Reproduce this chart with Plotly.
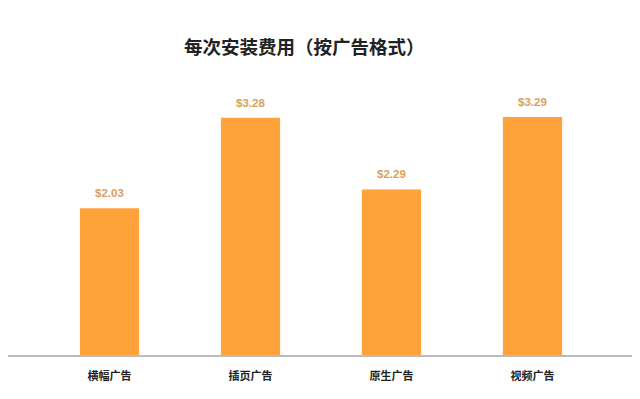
import plotly.graph_objects as go

categories = ["横幅广告", "插页广告", "原生广告", "视频广告"]
values = [2.03, 3.28, 2.29, 3.29]
labels = ["$2.03", "$3.28", "$2.29", "$3.29"]

fig = go.Figure(go.Bar(
    x=categories, y=values,
    marker=dict(color="#FFA23A", line=dict(width=0)),
    width=0.42,
))
for c, v, t in zip(categories, values, labels):
    fig.add_annotation(x=c, y=v, text="<b>%s</b>" % t, showarrow=False,
                       yanchor="bottom", yshift=7,
                       font=dict(family="Liberation Sans, Arial", size=11.5, color="#D9A05E"))
fig.update_layout(
    width=640, height=399,
    margin=dict(l=0, r=12, t=82, b=52),
    paper_bgcolor="white", plot_bgcolor="white",
    title=dict(text="<b>每次安装费用（按广告格式）</b>", x=0.463, xanchor="center", y=0.902, yanchor="middle",
               font=dict(family="Noto Sans CJK SC", size=18.5, color="#222222")),
    showlegend=False,
    font=dict(family="Noto Sans CJK SC"),
)
fig.update_xaxes(range=[-0.72, 3.734], showline=True, linecolor="#BBBBBB", linewidth=1.5,
                 showgrid=False, ticks="", ticklabelstandoff=10,
                 tickfont=dict(family="Noto Sans CJK SC", size=11, color="#222222", weight="bold"))
fig.update_yaxes(range=[0, 3.665], visible=False, showgrid=False, zeroline=False)
fig.write_html("out.html")
